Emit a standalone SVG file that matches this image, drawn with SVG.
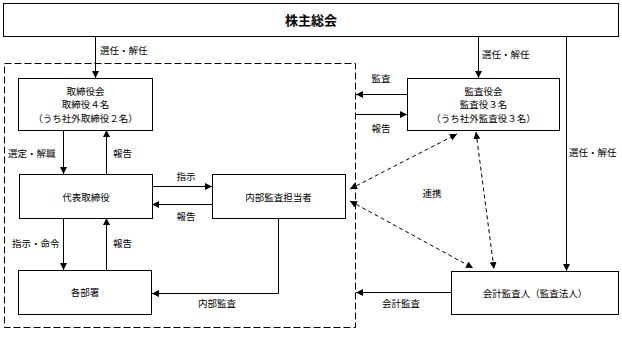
<svg xmlns="http://www.w3.org/2000/svg" width="622" height="341" viewBox="0 0 622 341">
<defs>
<marker id="ah" viewBox="0 0 8 8" refX="8" refY="4" markerWidth="7" markerHeight="7" markerUnits="userSpaceOnUse" orient="auto-start-reverse">
<path d="M0,0 L8,4 L0,8 Z" fill="#000"/>
</marker>
<style>
.box{fill:#fff;stroke:#000;stroke-width:1}
.t{font-family:"Noto Sans CJK JP","Noto Sans CJK SC",sans-serif;font-size:9.5px;fill:#000}
.c{text-anchor:middle}
.ln{fill:none;stroke:#000;stroke-width:1}
.dl{fill:none;stroke:#000;stroke-width:1;stroke-dasharray:4 3}
</style>
</defs>
<rect x="0" y="0" width="622" height="341" fill="#fff"/>
<rect x="4.5" y="63.5" width="351" height="264" fill="none" stroke="#000" stroke-width="1" stroke-dasharray="7 3"/>
<g id="connectors">
<path class="ln" d="M95.5,36 V78" marker-end="url(#ah)"/>
<path class="ln" d="M478.5,36 V78" marker-end="url(#ah)"/>
<path class="ln" d="M566.5,36 V271" marker-end="url(#ah)"/>
<path class="ln" d="M63.5,130 V174" marker-end="url(#ah)"/>
<path class="ln" d="M106.5,174 V130" marker-end="url(#ah)"/>
<path class="ln" d="M152,186.5 H212" marker-end="url(#ah)"/>
<path class="ln" d="M212,204.5 H152" marker-end="url(#ah)"/>
<path class="ln" d="M63.5,218 V270" marker-end="url(#ah)"/>
<path class="ln" d="M106.5,270 V218" marker-end="url(#ah)"/>
<path class="ln" d="M278.5,218 V293.5 H152" marker-end="url(#ah)"/>
<path class="ln" d="M407,94.5 H356" marker-end="url(#ah)"/>
<path class="ln" d="M356,114.5 H407" marker-end="url(#ah)"/>
<path class="ln" d="M451,292.5 H356" marker-end="url(#ah)"/>
<path class="dl" d="M350,189 L457,134" marker-start="url(#ah)" marker-end="url(#ah)"/>
<path class="dl" d="M350,201 L473,268" marker-start="url(#ah)" marker-end="url(#ah)"/>
<path class="dl" d="M476,132 L494,269" marker-start="url(#ah)" marker-end="url(#ah)"/>
<text class="t" x="100" y="54">選任・解任</text>
<text class="t" x="482" y="58">選任・解任</text>
<text class="t" x="569" y="156">選任・解任</text>
<text class="t" x="8" y="157">選定・解職</text>
<text class="t" x="113" y="157">報告</text>
<text class="t c" x="186" y="180">指示</text>
<text class="t c" x="186" y="220">報告</text>
<text class="t" x="12" y="247">指示・命令</text>
<text class="t" x="113" y="247">報告</text>
<text class="t c" x="217" y="307">内部監査</text>
<text class="t c" x="381" y="82">監査</text>
<text class="t c" x="381" y="132">報告</text>
<text class="t c" x="432" y="197">連携</text>
<text class="t c" x="401" y="307">会計監査</text>
</g>
<g id="shareholders">
<rect class="box" x="3.5" y="3.5" width="615" height="33"/>
<text x="311" y="25" text-anchor="middle" font-family="Noto Sans CJK JP, sans-serif" font-size="13px" font-weight="bold">株主総会</text>
</g>
<g id="board">
<rect class="box" x="18.5" y="78.5" width="134" height="52"/>
<text class="t c" x="85.5" y="95">取締役会</text>
<text class="t c" x="85.5" y="108">取締役４名</text>
<text class="t c" x="85.5" y="122">（うち社外取締役２名）</text>
</g>
<g id="auditors">
<rect class="box" x="407.5" y="78.5" width="152" height="52"/>
<text class="t c" x="483.5" y="95">監査役会</text>
<text class="t c" x="483.5" y="108">監査役３名</text>
<text class="t c" x="483.5" y="122">（うち社外監査役３名）</text>
</g>
<g id="ceo">
<rect class="box" x="19.5" y="174.5" width="133" height="44"/>
<text class="t c" x="86" y="201">代表取締役</text>
</g>
<g id="internal-audit">
<rect class="box" x="212.5" y="174.5" width="133" height="44"/>
<text class="t c" x="278.5" y="201">内部監査担当者</text>
</g>
<g id="departments">
<rect class="box" x="18.5" y="270.5" width="133" height="44"/>
<text class="t c" x="85" y="296">各部署</text>
</g>
<g id="accounting-auditor">
<rect class="box" x="451.5" y="271.5" width="167" height="43"/>
<text class="t c" x="535" y="297">会計監査人（監査法人）</text>
</g>
</svg>
